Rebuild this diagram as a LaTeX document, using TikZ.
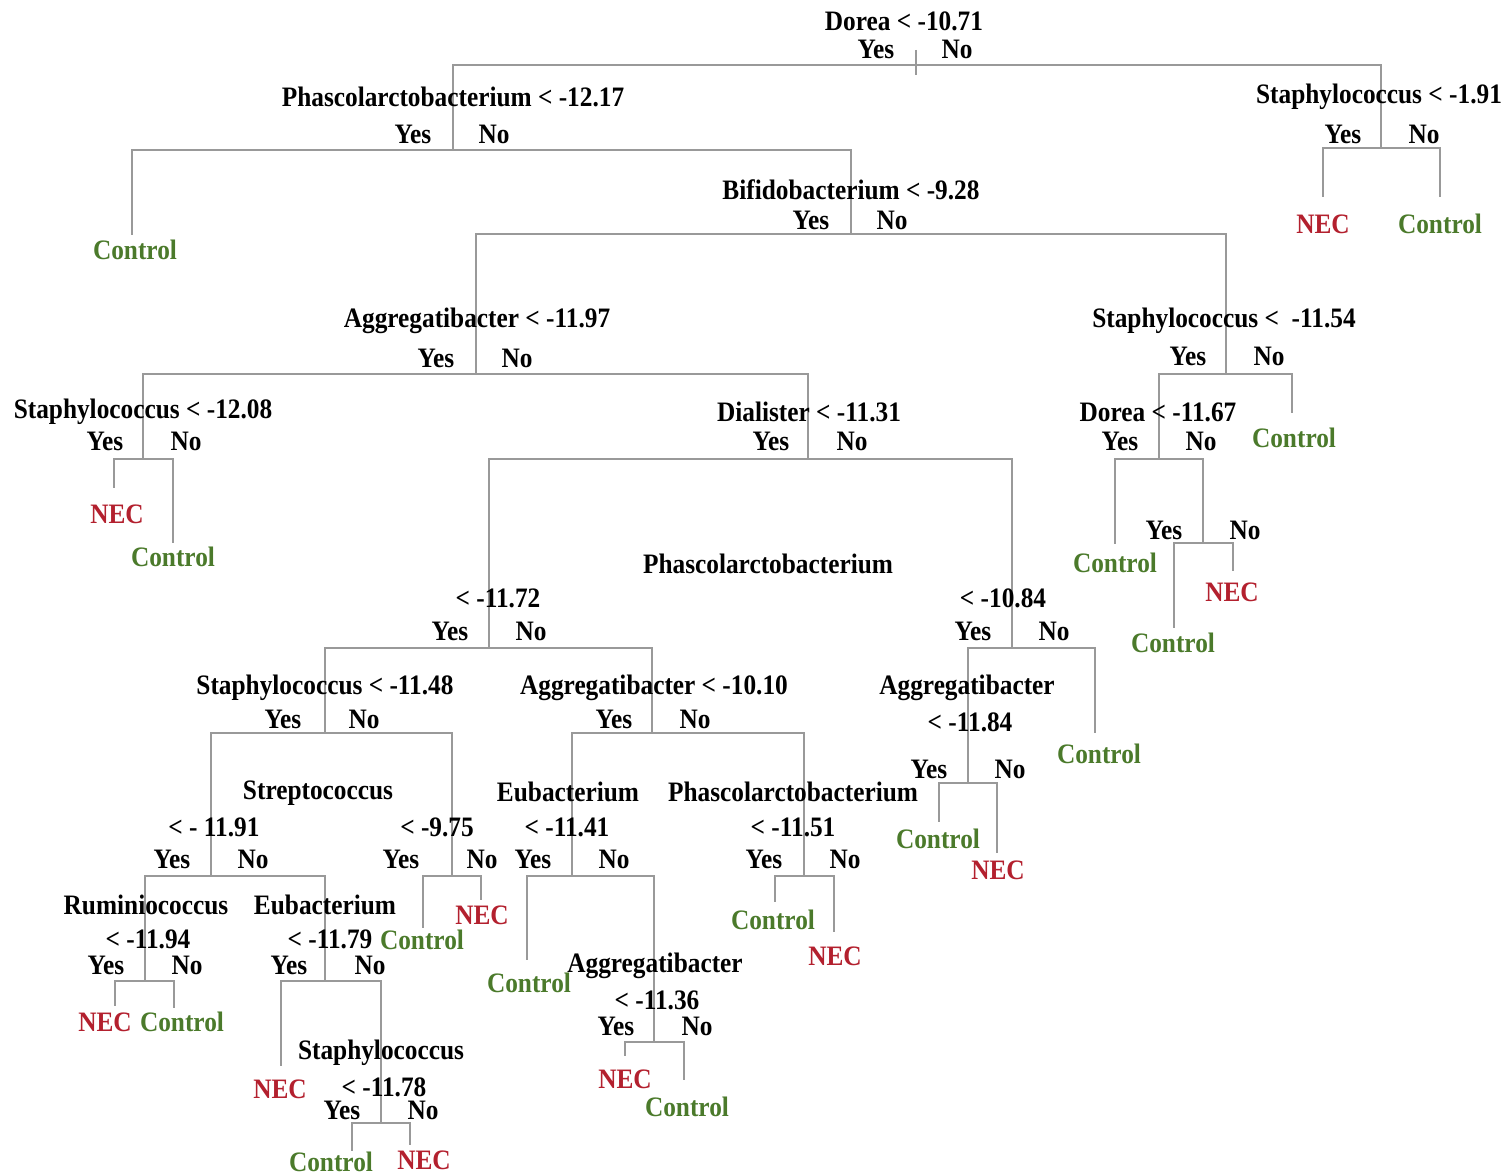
\documentclass[tikz,border=0pt]{standalone}
\usepackage{fontspec}
\setmainfont{Liberation Serif}
\usetikzlibrary{positioning}
\definecolor{necred}{HTML}{B3202E}
\definecolor{ctrlgreen}{HTML}{4B7A2B}
\tikzset{
  branch/.style={draw=black!40, line width=0.7pt},
  cut/.style={font=\fontsize{8}{9}\selectfont\bfseries, inner sep=0pt, xscale=0.9},
  ans/.style={cut},
  nec/.style={cut, text=necred},
  ctrl/.style={cut, text=ctrlgreen}
}

\begin{document}
\begin{tikzpicture}[x=0.01cm,y=-0.01cm]
    \useasboundingbox (0,0) rectangle (1506,1176);
    %% split points (centre of each horizontal bar)
    \coordinate (root) at (916,65);
    \coordinate (rootTop) at (916,50);
    \coordinate (rootBot) at (916,75);
    \coordinate (phasA) at (453,150);
    \coordinate (staphR) at (1381,148);
    \coordinate (bifi) at (851,234);
    \coordinate (aggA) at (476,374);
    \coordinate (staphM) at (1226,374);
    \coordinate (staphL) at (143,459);
    \coordinate (dial) at (808,459);
    \coordinate (doreaB) at (1159,459);
    \coordinate (splitX) at (1203,543);
    \coordinate (phasL) at (489,648);
    \coordinate (phasR) at (1012,648);
    \coordinate (staphA) at (325,733);
    \coordinate (aggB) at (652,733);
    \coordinate (aggD) at (968,783);
    \coordinate (strepL) at (211,876);
    \coordinate (strepR) at (452,876);
    \coordinate (eubB) at (572,876);
    \coordinate (phasB) at (804,876);
    \coordinate (rumi) at (145,981);
    \coordinate (eubA) at (325,981);
    \coordinate (aggC) at (654,1042);
    \coordinate (staphB) at (381,1123);
    %% leaf ends
    \coordinate (e1) at (132,235);
    \coordinate (e2) at (1323,197);
    \coordinate (e3) at (1440,197);
    \coordinate (e4) at (114,488);
    \coordinate (e5) at (173,543);
    \coordinate (e6) at (1115,544);
    \coordinate (e7) at (1174,628);
    \coordinate (e8) at (1233,571);
    \coordinate (e9) at (1292,413);
    \coordinate (e10) at (1095,733);
    \coordinate (e11) at (939,822);
    \coordinate (e12) at (997,853);
    \coordinate (e13) at (115,1006);
    \coordinate (e14) at (174,1008);
    \coordinate (e15) at (281,1066);
    \coordinate (e16) at (352,1151);
    \coordinate (e17) at (410,1145);
    \coordinate (e18) at (423,928);
    \coordinate (e19) at (481,900);
    \coordinate (e20) at (527,960);
    \coordinate (e21) at (625,1056);
    \coordinate (e22) at (684,1080);
    \coordinate (e23) at (775,902);
    \coordinate (e24) at (834,932);
    %% branches
    \draw[branch] (rootTop) -- (rootBot);
    \draw[branch] (root) -| (phasA);
    \draw[branch] (root) -| (staphR);
    \draw[branch] (phasA) -| (e1);
    \draw[branch] (phasA) -| (bifi);
    \draw[branch] (staphR) -| (e2);
    \draw[branch] (staphR) -| (e3);
    \draw[branch] (bifi) -| (aggA);
    \draw[branch] (bifi) -| (staphM);
    \draw[branch] (aggA) -| (staphL);
    \draw[branch] (aggA) -| (dial);
    \draw[branch] (staphL) -| (e4);
    \draw[branch] (staphL) -| (e5);
    \draw[branch] (staphM) -| (doreaB);
    \draw[branch] (staphM) -| (e9);
    \draw[branch] (doreaB) -| (e6);
    \draw[branch] (doreaB) -| (splitX);
    \draw[branch] (splitX) -| (e7);
    \draw[branch] (splitX) -| (e8);
    \draw[branch] (dial) -| (phasL);
    \draw[branch] (dial) -| (phasR);
    \draw[branch] (phasR) -| (aggD);
    \draw[branch] (phasR) -| (e10);
    \draw[branch] (aggD) -| (e11);
    \draw[branch] (aggD) -| (e12);
    \draw[branch] (phasL) -| (staphA);
    \draw[branch] (phasL) -| (aggB);
    \draw[branch] (staphA) -| (strepL);
    \draw[branch] (staphA) -| (strepR);
    \draw[branch] (strepL) -| (rumi);
    \draw[branch] (strepL) -| (eubA);
    \draw[branch] (rumi) -| (e13);
    \draw[branch] (rumi) -| (e14);
    \draw[branch] (eubA) -| (e15);
    \draw[branch] (eubA) -| (staphB);
    \draw[branch] (staphB) -| (e16);
    \draw[branch] (staphB) -| (e17);
    \draw[branch] (strepR) -| (e18);
    \draw[branch] (strepR) -| (e19);
    \draw[branch] (aggB) -| (eubB);
    \draw[branch] (aggB) -| (phasB);
    \draw[branch] (eubB) -| (e20);
    \draw[branch] (eubB) -| (aggC);
    \draw[branch] (aggC) -| (e21);
    \draw[branch] (aggC) -| (e22);
    \draw[branch] (phasB) -| (e23);
    \draw[branch] (phasB) -| (e24);
    %% split rules
    \node[cut] (t-root) at (904,21) {Dorea < -10.71};
    \node[cut] (t-phasA) at (453,97) {Phascolarctobacterium < -12.17};
    \node[cut] (t-staphR) at (1379,97) {Staphylococcus < -1.91};
    \node[cut] (t-bifi) at (851,190) {Bifidobacterium < -9.28};
    \node[cut] (t-aggA) at (477,321) {Aggregatibacter < -11.97};
    \node[cut] (t-staphM) at (1224,321) {Staphylococcus <\ \ -11.54};
    \node[cut] (t-staphL) at (143,412) {Staphylococcus < -12.08};
    \node[cut] (t-dial) at (809,412) {Dialister < -11.31};
    \node[cut] (t-doreaB) at (1158,412) {Dorea < -11.67};
    \node[cut] (t-phas) at (768,564) {Phascolarctobacterium};
    \node[cut] (t-phasL) at (498,598) {< -11.72};
    \node[cut] (t-phasR) at (1003,598) {< -10.84};
    \node[cut] (t-staphA) at (325,688) {Staphylococcus < -11.48};
    \node[cut] (t-aggB) at (654,688) {Aggregatibacter < -10.10};
    \node[cut] (t-aggD) at (967,688) {Aggregatibacter};
    \node[cut] (t-aggD2) at (970,722) {< -11.84};
    \node[cut] (t-strep) at (318,793) {Streptococcus};
    \node[cut] (t-strepL) at (214,827) {< - 11.91};
    \node[cut] (t-strepR) at (437,827) {< -9.75};
    \node[cut] (t-eubB) at (568,792) {Eubacterium};
    \node[cut] (t-eubB2) at (567,827) {< -11.41};
    \node[cut] (t-phasB) at (793,792) {Phascolarctobacterium};
    \node[cut] (t-phasB2) at (793,827) {< -11.51};
    \node[cut] (t-rumi) at (146,905) {Ruminiococcus};
    \node[cut] (t-rumi2) at (148,939) {< -11.94};
    \node[cut] (t-eubA) at (325,905) {Eubacterium};
    \node[cut] (t-eubA2) at (330,939) {< -11.79};
    \node[cut] (t-aggC) at (655,966) {Aggregatibacter};
    \node[cut] (t-aggC2) at (657,1000) {< -11.36};
    \node[cut] (t-staphB) at (381,1053) {Staphylococcus};
    \node[cut] (t-staphB2) at (384,1087) {< -11.78};
    %% yes / no
    \foreach \n/\x/\y in {root/916/49, phasA/453/134, staphR/1383/134, bifi/851/220,
        aggA/476/358, staphM/1228/356, staphL/145/441, dial/811/441, doreaB/1160/441,
        splitX/1204/530, phasL/490/631, phasR/1013/631, staphA/323/719, aggB/654/719,
        aggD/969/769, strepL/212/859, strepR/441/859, eubB/573/859, phasB/804/859,
        rumi/146/965, eubA/329/965, aggC/656/1026, staphB/382/1110}
    {
      \node[ans] (yes-\n) at (\x-40,\y) {Yes};
      \node[ans] (no-\n) at (\x+41,\y) {No};
    }
    %% leaves
    \node[ctrl] (l1) at (135,250) {Control};
    \node[nec] (l2) at (1323,224) {NEC};
    \node[ctrl] (l3) at (1440,224) {Control};
    \node[nec] (l4) at (117,514) {NEC};
    \node[ctrl] (l5) at (173,557) {Control};
    \node[ctrl] (l6) at (1115,563) {Control};
    \node[ctrl] (l7) at (1173,643) {Control};
    \node[nec] (l8) at (1232,592) {NEC};
    \node[ctrl] (l9) at (1294,438) {Control};
    \node[ctrl] (l10) at (1099,754) {Control};
    \node[ctrl] (l11) at (938,839) {Control};
    \node[nec] (l12) at (998,870) {NEC};
    \node[nec] (l13) at (105,1022) {NEC};
    \node[ctrl] (l14) at (182,1022) {Control};
    \node[nec] (l15) at (280,1089) {NEC};
    \node[ctrl] (l16) at (331,1162) {Control};
    \node[nec] (l17) at (424,1160) {NEC};
    \node[ctrl] (l18) at (422,940) {Control};
    \node[nec] (l19) at (482,915) {NEC};
    \node[ctrl] (l20) at (529,983) {Control};
    \node[nec] (l21) at (625,1079) {NEC};
    \node[ctrl] (l22) at (687,1107) {Control};
    \node[ctrl] (l23) at (773,920) {Control};
    \node[nec] (l24) at (835,956) {NEC};
\end{tikzpicture}
\end{document}
